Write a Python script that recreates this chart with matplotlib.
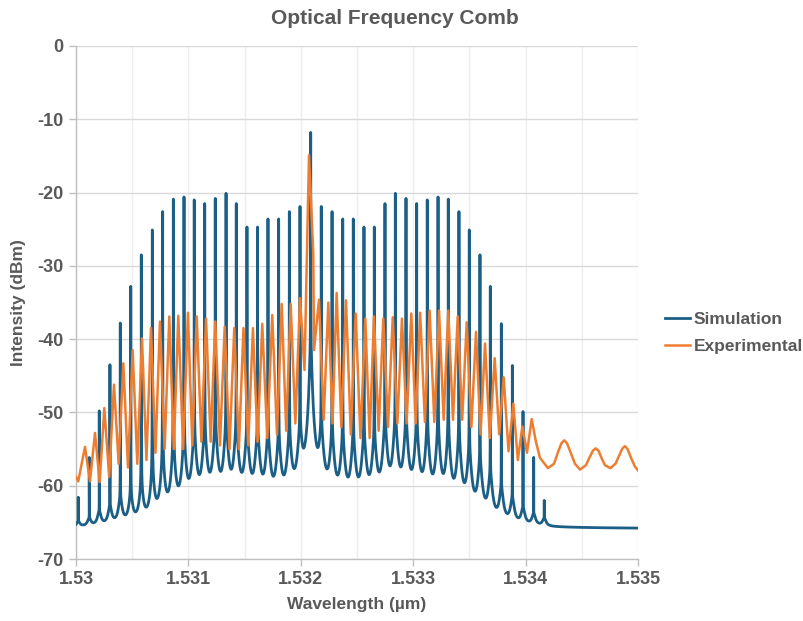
import numpy as np
import matplotlib
matplotlib.use("Agg")
import matplotlib.pyplot as plt
from matplotlib.ticker import MultipleLocator
from matplotlib.lines import Line2D

# ---------------- data ----------------
title = "Optical Frequency Comb"
x_label = "Wavelength (\u00b5m)"
y_label = "Intensity (dBm)"
series_names = ["Simulation", "Experimental"]
x_ticks = [1.530, 1.531, 1.532, 1.533, 1.534, 1.535]
x_tick_labels = ["1.53", "1.531", "1.532", "1.533", "1.534", "1.535"]
y_ticks = [0, -10, -20, -30, -40, -50, -60, -70]

# Simulation: comb-line wavelengths (um), line peak levels and pedestal levels (dBm)
sim_peak_wl = [1.530020, 1.530118, 1.530207, 1.530302, 1.530394, 1.530487, 1.530581,
               1.530679, 1.530771, 1.530866, 1.530961, 1.531052, 1.531145, 1.531239,
               1.531335, 1.531426, 1.531521, 1.531615, 1.531708, 1.531803, 1.531898,
               1.531993, 1.532088, 1.532182, 1.532278, 1.532373, 1.532467, 1.532562,
               1.532654, 1.532749, 1.532841, 1.532936, 1.533031, 1.533125, 1.533221,
               1.533312, 1.533407, 1.533499, 1.533594, 1.533686, 1.533784, 1.533882,
               1.533977, 1.534072, 1.534166]
sim_peak_db = [-61.7, -56.2, -49.8, -43.5, -37.8, -32.8, -28.5, -25.1, -22.6, -20.9,
               -20.6, -21.0, -21.5, -20.8, -20.1, -21.5, -24.7, -24.7, -23.6, -23.6,
               -22.6, -21.9, -11.8, -21.9, -22.6, -23.6, -23.6, -24.7, -24.7, -21.5,
               -20.1, -20.8, -21.5, -21.0, -20.6, -20.9, -22.6, -25.1, -28.5, -32.8,
               -37.9, -43.6, -49.9, -56.2, -62.2]
sim_pedestal_db = [-73.0, -71.0, -68.0, -66.5, -64.5, -64.0, -62.5, -60.5, -58.5, -57.0,
                   -56.0, -54.5, -54.0, -53.5, -53.5, -53.5, -54.0, -54.0, -54.5, -55.0,
                   -54.5, -53.5, -41.5, -53.5, -54.5, -55.0, -55.0, -54.5, -54.5, -53.0,
                   -52.5, -53.0, -53.5, -54.0, -54.0, -54.5, -55.0, -56.5, -58.0, -60.0,
                   -62.5, -64.5, -67.0, -69.0, -71.0]
sim_floor_db = -65.9

# Experimental: peak wavelengths (um) and levels, trough levels between peaks (dBm)
exp_peak_wl = [1.530080, 1.530169, 1.530252, 1.530338, 1.530421, 1.530504, 1.530587,
               1.530667, 1.530747, 1.530830, 1.530910, 1.530996, 1.531074, 1.531157,
               1.531239, 1.531323, 1.531408, 1.531490, 1.531574, 1.531657, 1.531746,
               1.531830, 1.531910, 1.531993, 1.532073, 1.532162, 1.532245, 1.532319,
               1.532402, 1.532488, 1.532574, 1.532651, 1.532734, 1.532818, 1.532900,
               1.532983, 1.533062, 1.533146, 1.533230, 1.533312, 1.533396, 1.533476,
               1.533559, 1.533639, 1.533725, 1.533805, 1.533891, 1.533971, 1.534054,
               1.534344, 1.534624, 1.534884]
exp_peak_db = [-54.7, -52.8, -49.4, -46.2, -43.3, -41.5, -39.9, -38.5, -37.6, -36.9,
               -36.8, -36.4, -36.9, -37.2, -37.6, -38.3, -38.5, -38.5, -38.5, -37.9,
               -36.7, -35.2, -35.2, -34.4, -14.9, -34.6, -35.0, -33.7, -34.7, -36.5,
               -37.2, -36.9, -37.2, -37.0, -37.2, -36.5, -36.4, -36.1, -36.1, -36.1,
               -36.9, -37.7, -39.0, -40.6, -42.6, -45.2, -48.8, -51.9, -50.9, -53.8,
               -54.9, -54.6]
exp_trough_db = [-59.4, -59.5, -58.8, -57.0, -57.5, -57.0, -56.5, -55.5, -55.0, -55.0,
                 -55.0, -54.5, -54.0, -54.0, -54.5, -55.0, -55.0, -54.5, -54.0, -53.5,
                 -53.0, -52.5, -51.5, -44.2, -41.5, -51.0, -51.5, -52.0, -53.0, -53.5,
                 -53.5, -52.5, -52.0, -51.5, -51.5, -51.5, -51.3, -51.3, -51.0, -51.0,
                 -51.0, -52.0, -53.0, -53.5, -53.0, -55.3, -56.5, -55.5, -57.6, -57.8,
                 -57.6]
exp_edge_wl = [1.530000, 1.530020, 1.535000]
exp_edge_db = [-58.8, -59.4, -57.9]
exp_shoulder_wl = [1.532111, 1.534092, 1.534128,
                   1.534253, 1.534291, 1.534319, 1.534368, 1.534399, 1.534439,
                   1.534537, 1.534573, 1.534600, 1.534648, 1.534675, 1.534706,
                   1.534800, 1.534835, 1.534862, 1.534907, 1.534938, 1.534973]
exp_shoulder_db = [-28.3, -54.0, -56.2,
                   -57.0, -55.3, -54.2, -54.2, -55.4, -57.0,
                   -57.2, -56.0, -55.2, -55.2, -56.2, -57.2,
                   -57.0, -55.8, -54.9, -55.0, -56.2, -57.4]

# ---------------- build curves ----------------
spacing = float(np.median(np.diff(sim_peak_wl)))
xs = np.union1d(np.linspace(x_ticks[0], x_ticks[-1], 8001), sim_peak_wl)
floor_lin = 10 ** (sim_floor_db / 10)
lin = np.full_like(xs, floor_lin)
center_idx = int(np.argmax(sim_peak_db))
for i, (wl, pk, ped) in enumerate(zip(sim_peak_wl, sim_peak_db, sim_pedestal_db)):
    w_spike = 0.001 * spacing
    w_ped = (0.10 if i == center_idx else 0.18) * spacing
    ped_lin = 10 ** (ped / 10)
    pk_lin = max(10 ** (pk / 10) - ped_lin - floor_lin, 1e-12)
    lin += pk_lin / (1 + ((xs - wl) / w_spike) ** 2) + ped_lin / (1 + ((xs - wl) / w_ped) ** 2)
sim_db = 10 * np.log10(lin)

pw = np.array(exp_peak_wl)
trough_wl = (pw[:-1] + pw[1:]) / 2
ex = np.concatenate([exp_edge_wl, pw, trough_wl, exp_shoulder_wl])
ey = np.concatenate([exp_edge_db, exp_peak_db, exp_trough_db, exp_shoulder_db])
order = np.argsort(ex)
ex, ey = ex[order], ey[order]

# ---------------- plot ----------------
plt.rcParams['font.family'] = ['Liberation Sans', 'DejaVu Sans']
plt.rcParams['axes.unicode_minus'] = False
text_color = "#595959"
sim_color = "#1c5f86"
exp_color = "#ed7d31"

fig = plt.figure(figsize=(8.04, 6.21), dpi=100)
ax = fig.add_axes([76 / 804, 1 - 559 / 621, (638 - 76) / 804, (559 - 46) / 621])

ax.plot(xs, sim_db, color=sim_color, lw=2.0, zorder=3, solid_joinstyle='round')
ax.plot(ex, ey, color=exp_color, lw=1.8, zorder=4, solid_joinstyle='round')

ax.set_xlim(x_ticks[0], x_ticks[-1])
ax.set_ylim(-70, 0)
ax.set_xticks(x_ticks)
ax.set_xticklabels(x_tick_labels)
ax.set_yticks(y_ticks)
ax.xaxis.set_minor_locator(MultipleLocator(0.0005))

ax.grid(which='major', axis='y', color='#d9d9d9', lw=1.0, zorder=0)
ax.grid(which='both', axis='x', color='#eeeeee', lw=1.0, zorder=0)
ax.set_axisbelow(True)

for s in ['top', 'right']:
    ax.spines[s].set_visible(False)
for s in ['left', 'bottom']:
    ax.spines[s].set_color('#bfbfbf')
    ax.spines[s].set_linewidth(1.0)
ax.tick_params(axis='both', which='major', length=5, color='#bfbfbf', width=1,
               labelsize=13, labelcolor=text_color, pad=4)
ax.tick_params(axis='x', which='minor', length=0)
for lab in ax.get_xticklabels() + ax.get_yticklabels():
    lab.set_fontweight('bold')

ax.set_xlabel(x_label, fontsize=12.5, fontweight='bold', color=text_color, labelpad=6)
ax.set_ylabel(y_label, fontsize=12.5, fontweight='bold', color=text_color, labelpad=8)
fig.text(395 / 804, 1 - 18 / 621, title, ha='center', va='center', fontsize=15,
         fontweight='bold', color=text_color)

handles = [Line2D([0], [0], color=sim_color, lw=2.0), Line2D([0], [0], color=exp_color, lw=1.8)]
leg = fig.legend(handles, series_names, loc='center left', bbox_to_anchor=(665 / 804, 1 - 333 / 621),
                 frameon=False, handlelength=1.45, handletextpad=0.2, labelspacing=0.7,
                 borderpad=0, borderaxespad=0, prop={'size': 12.5, 'weight': 'bold'})
for t in leg.get_texts():
    t.set_color(text_color)

fig.savefig("out.png", dpi=100)
